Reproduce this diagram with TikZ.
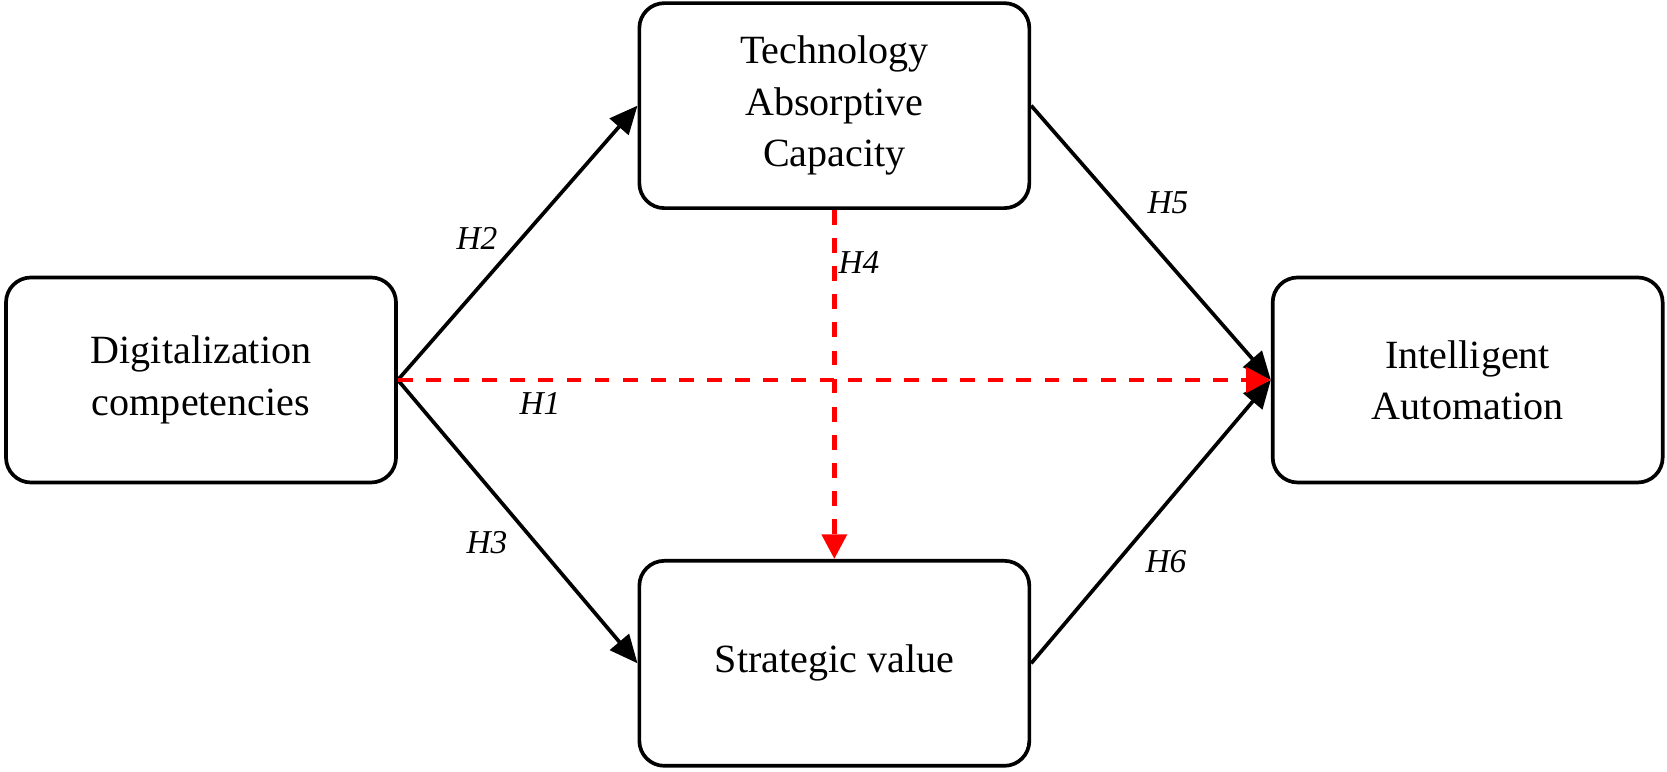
\documentclass[tikz,border=0pt]{standalone}
\usepackage{fontspec}
\setmainfont{Liberation Serif}
\usetikzlibrary{arrows.meta,positioning,calc}

\begin{document}
\begin{tikzpicture}[
  box/.style={draw,line width=1.05pt,rounded corners=0.25cm,minimum width=3.9cm,minimum height=2.05cm,align=center,font=\fontsize{11.4}{14.6}\selectfont},
  link/.style={line width=1.05pt,-{Triangle[length=8pt,width=7pt]}},
  redlink/.style={red,line width=1.35pt,dash pattern=on 4.2pt off 3.8pt,-{Triangle[length=7pt,width=7pt]}},
  hlabel/.style={font=\fontsize{9.5}{11}\selectfont\itshape}
]
\useasboundingbox (0,0) rectangle (16.67,-7.72);

\node[box] (dc) at (2.01,-3.80) {Digitalization\\competencies};
\node[box,right=8.73cm of dc] (ia) {Intelligent\\Automation};
\coordinate (mid) at ($(dc)!0.5!(ia)$);
\node[box,above=1.70cm of mid] (tac) {Technology\\Absorptive\\Capacity};
\node[box,below=1.79cm of mid] (sv) {Strategic value};

\draw[link] (dc.east) -- (tac.west);
\draw[link] (dc.east) -- (sv.west);
\draw[link] (tac.east) -- (ia.west);
\draw[link] (sv.east) -- (ia.west);
\draw[redlink] (dc.east) -- (ia.west);
\draw[redlink] (tac.south) -- (sv.north);

\node[hlabel] (h1) at (5.40,-4.03) {H1};
\node[hlabel] (h2) at (4.77,-2.38) {H2};
\node[hlabel] (h3) at (4.87,-5.43) {H3};
\node[hlabel] (h4) at (8.59,-2.63) {H4};
\node[hlabel] (h5) at (11.68,-2.03) {H5};
\node[hlabel] (h6) at (11.66,-5.62) {H6};

\end{tikzpicture}
\end{document}
